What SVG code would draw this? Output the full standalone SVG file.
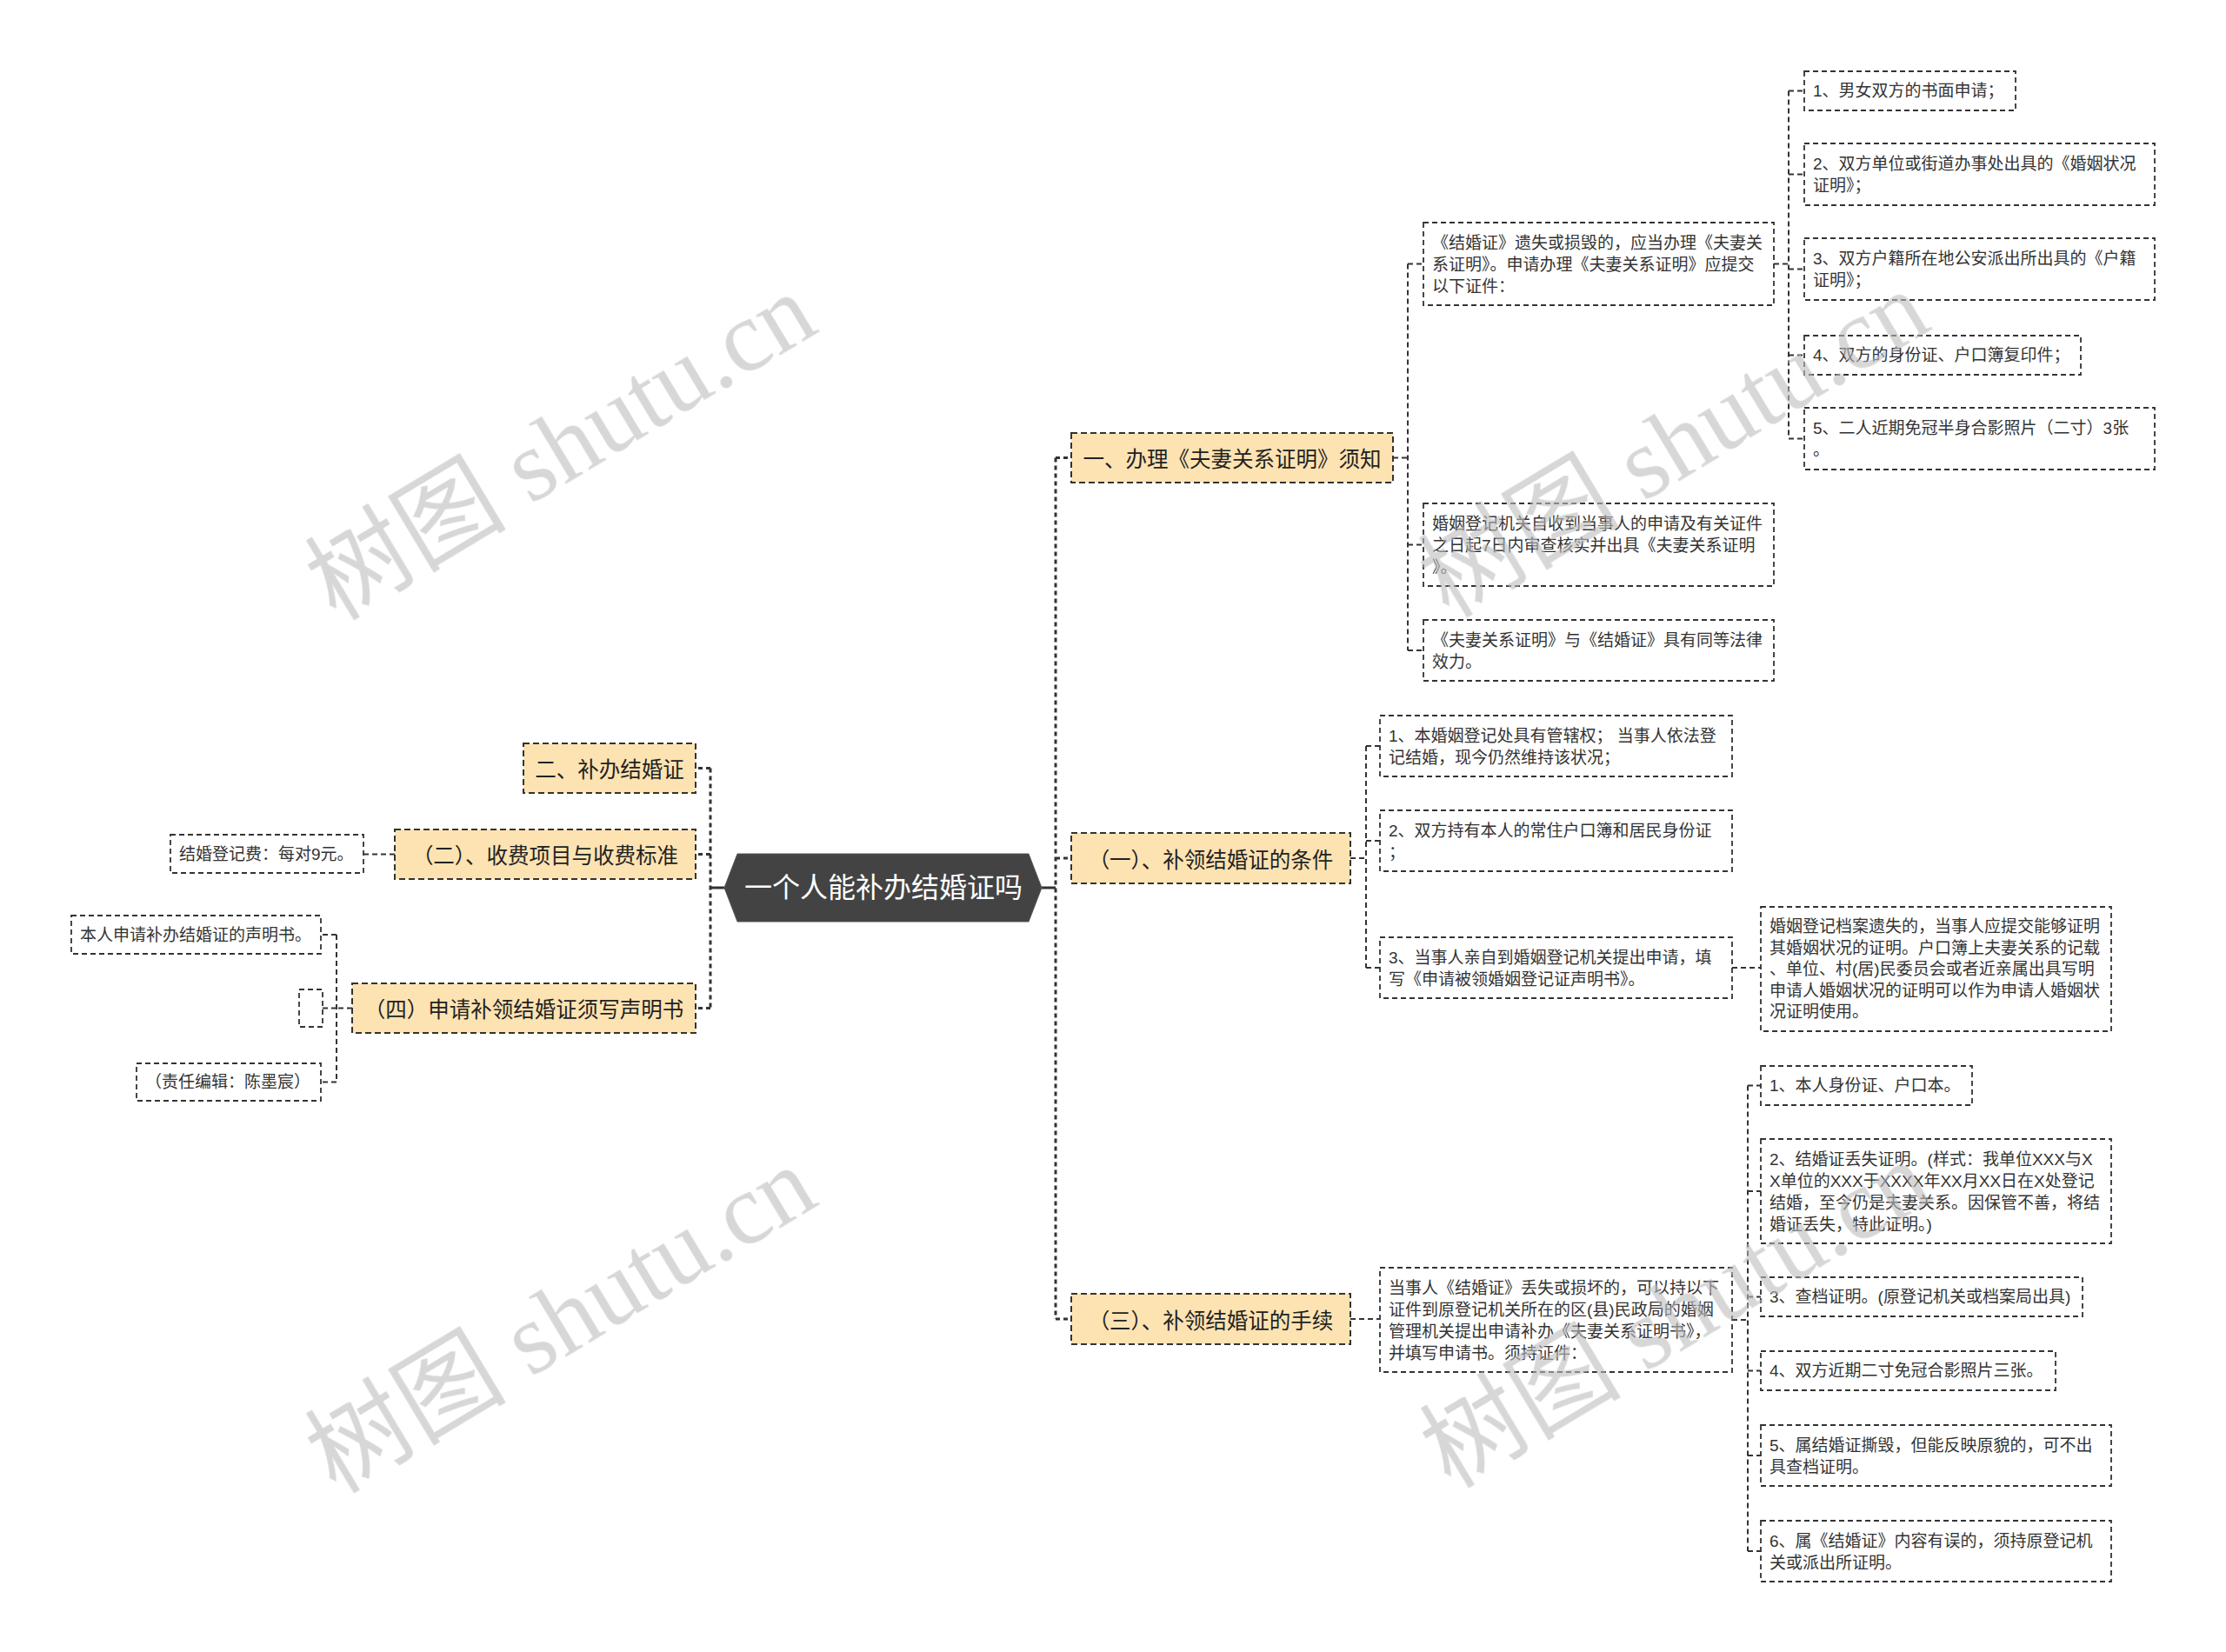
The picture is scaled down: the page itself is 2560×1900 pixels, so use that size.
<svg xmlns="http://www.w3.org/2000/svg" width="2560" height="1900" viewBox="0 0 2560 1900">
<style>
.bg{fill:#ffffff}
.n1 rect{fill:#fde3b2;stroke:#333333;stroke-width:2;stroke-dasharray:7 4}
.n2 rect{fill:#ffffff;stroke:#333333;stroke-width:1.8;stroke-dasharray:6 4}
.root polygon{fill:#434343;stroke:#555555;stroke-width:1}
.rt{font-family:"Liberation Sans","Noto Sans CJK SC",sans-serif;font-size:32px;fill:#ffffff;text-anchor:middle;dominant-baseline:central}
.t1{font-family:"Noto Sans CJK SC",sans-serif;font-size:24.5px;fill:#222222;text-anchor:middle;dominant-baseline:central}
.t2{font-family:"Liberation Sans","Noto Sans CJK SC",sans-serif;font-size:19px;fill:#333333;dominant-baseline:central}
.c0{stroke:#333333;stroke-width:3;fill:none}
.c1{stroke:#333333;stroke-width:3;stroke-dasharray:5 4;fill:none}
.c2{stroke:#333333;stroke-width:2;stroke-dasharray:6 4;fill:none}
.wm{font-family:"Liberation Serif","Noto Sans CJK SC",serif;font-size:116px;fill:#bdbdbd;opacity:0.6;text-anchor:middle;dominant-baseline:central}
</style>
<rect class="bg" x="0" y="0" width="2560" height="1900"/>

<g id="connectors">
  <path class="c0" d="M817 1021H833M1198 1021H1214"/>
  <path class="c1" d="M1214 526.5V1517M1214 526.5H1232M1214 987H1232M1214 1517H1232"/>
  <path class="c1" d="M817 883.5V1159.5M817 883.5H800M817 982.5H800M817 1159.5H800"/>
  <path class="c2" d="M1602 526.5H1619M1619 303.5V748M1619 303.5H1637M1619 626.5H1637M1619 748H1637"/>
  <path class="c2" d="M2040 303.5H2057M2057 104.5V504.5M2057 104.5H2075M2057 200.5H2075M2057 309.5H2075M2057 408.5H2075M2057 504.5H2075"/>
  <path class="c2" d="M1553 987H1571M1571 858V1113M1571 858H1587M1571 967H1587M1571 1113H1587"/>
  <path class="c2" d="M1992 1113H2025"/>
  <path class="c2" d="M1553 1517H1587"/>
  <path class="c2" d="M1992 1518H2010M2010 1248.5V1784M2010 1248.5H2025M2010 1370H2025M2010 1491.5H2025M2010 1576.5H2025M2010 1674H2025M2010 1784H2025"/>
  <path class="c2" d="M454 982.5H418"/>
  <path class="c2" d="M405 1159.5H387M387 1075V1244.5M387 1075H369M387 1159.5H371M387 1244.5H369"/>
</g>

<g id="root" class="root">
  <polygon points="833,1021 848,982 1183,982 1198,1021 1183,1060 848,1060"/>
  <text class="rt" x="1016" y="1021">一个人能补办结婚证吗</text>
</g>

<g id="n-yi" class="n1">
  <rect x="1232" y="498" width="370" height="57"/>
  <text class="t1" x="1417" y="526.5">一、办理《夫妻关系证明》须知</text>
</g>
<g id="n-1" class="n1">
  <rect x="1232" y="958" width="321" height="58"/>
  <text class="t1" x="1392.5" y="987">（一）、补领结婚证的条件</text>
</g>
<g id="n-3" class="n1">
  <rect x="1232" y="1488" width="321" height="58"/>
  <text class="t1" x="1392.5" y="1517">（三）、补领结婚证的手续</text>
</g>
<g id="n-er" class="n1">
  <rect x="602" y="855" width="198" height="57"/>
  <text class="t1" x="701" y="883.5">二、补办结婚证</text>
</g>
<g id="n-2" class="n1">
  <rect x="454" y="954" width="346" height="57"/>
  <text class="t1" x="627" y="982.5">（二）、收费项目与收费标准</text>
</g>
<g id="n-4" class="n1">
  <rect x="405" y="1131" width="395" height="57"/>
  <text class="t1" x="602.5" y="1159.5">（四）申请补领结婚证须写声明书</text>
</g>

<g id="a" class="n2">
  <rect x="1637" y="256" width="403" height="95"/>
  <text class="t2"><tspan x="1647" y="278.5">《结婚证》遗失或损毁的，应当办理《夫妻关</tspan><tspan x="1647" y="303.5">系证明》。申请办理《夫妻关系证明》应提交</tspan><tspan x="1647" y="328.5">以下证件：</tspan></text>
</g>
<g id="b" class="n2">
  <rect x="1637" y="579" width="403" height="95"/>
  <text class="t2"><tspan x="1647" y="601.5">婚姻登记机关自收到当事人的申请及有关证件</tspan><tspan x="1647" y="626.5">之日起7日内审查核实并出具《夫妻关系证明</tspan><tspan x="1647" y="651.5">》。</tspan></text>
</g>
<g id="c" class="n2">
  <rect x="1637" y="713" width="403" height="70"/>
  <text class="t2"><tspan x="1647" y="735.5">《夫妻关系证明》与《结婚证》具有同等法律</tspan><tspan x="1647" y="760.5">效力。</tspan></text>
</g>
<g id="a1" class="n2">
  <rect x="2075" y="82" width="243" height="45"/>
  <text class="t2" x="2085" y="104.5">1、男女双方的书面申请；</text>
</g>
<g id="a2" class="n2">
  <rect x="2075" y="165" width="403" height="71"/>
  <text class="t2"><tspan x="2085" y="188">2、双方单位或街道办事处出具的《婚姻状况</tspan><tspan x="2085" y="213">证明》；</tspan></text>
</g>
<g id="a3" class="n2">
  <rect x="2075" y="274" width="403" height="71"/>
  <text class="t2"><tspan x="2085" y="297">3、双方户籍所在地公安派出所出具的《户籍</tspan><tspan x="2085" y="322">证明》；</tspan></text>
</g>
<g id="a4" class="n2">
  <rect x="2075" y="386" width="318" height="45"/>
  <text class="t2" x="2085" y="408.5">4、双方的身份证、户口簿复印件；</text>
</g>
<g id="a5" class="n2">
  <rect x="2075" y="469" width="403" height="71"/>
  <text class="t2"><tspan x="2085" y="492">5、二人近期免冠半身合影照片（二寸）3张</tspan><tspan x="2085" y="517">。</tspan></text>
</g>

<g id="c1" class="n2">
  <rect x="1587" y="823" width="405" height="70"/>
  <text class="t2"><tspan x="1597" y="845.5">1、本婚姻登记处具有管辖权； 当事人依法登</tspan><tspan x="1597" y="870.5">记结婚，现今仍然维持该状况；</tspan></text>
</g>
<g id="c2" class="n2">
  <rect x="1587" y="932" width="405" height="70"/>
  <text class="t2"><tspan x="1597" y="954.5">2、双方持有本人的常住户口簿和居民身份证</tspan><tspan x="1597" y="979.5">；</tspan></text>
</g>
<g id="c3" class="n2">
  <rect x="1587" y="1078" width="405" height="70"/>
  <text class="t2"><tspan x="1597" y="1100.5">3、当事人亲自到婚姻登记机关提出申请，填</tspan><tspan x="1597" y="1125.5">写《申请被领婚姻登记证声明书》。</tspan></text>
</g>
<g id="c3x" class="n2">
  <rect x="2025" y="1043" width="403" height="143"/>
  <text class="t2"><tspan x="2035" y="1065">婚姻登记档案遗失的，当事人应提交能够证明</tspan><tspan x="2035" y="1089.5">其婚姻状况的证明。户口簿上夫妻关系的记载</tspan><tspan x="2035" y="1114">、单位、村(居)民委员会或者近亲属出具写明</tspan><tspan x="2035" y="1138.5">申请人婚姻状况的证明可以作为申请人婚姻状</tspan><tspan x="2035" y="1163">况证明使用。</tspan></text>
</g>

<g id="d0" class="n2">
  <rect x="1587" y="1458" width="405" height="120"/>
  <text class="t2"><tspan x="1597" y="1480.5">当事人《结婚证》丢失或损坏的，可以持以下</tspan><tspan x="1597" y="1505.5">证件到原登记机关所在的区(县)民政局的婚姻</tspan><tspan x="1597" y="1530.5">管理机关提出申请补办《夫妻关系证明书》，</tspan><tspan x="1597" y="1555.5">并填写申请书。须持证件：</tspan></text>
</g>
<g id="d1" class="n2">
  <rect x="2025" y="1226" width="243" height="45"/>
  <text class="t2" x="2035" y="1248.5">1、本人身份证、户口本。</text>
</g>
<g id="d2" class="n2">
  <rect x="2025" y="1310" width="403" height="120"/>
  <text class="t2"><tspan x="2035" y="1332.5">2、结婚证丢失证明。(样式：我单位XXX与X</tspan><tspan x="2035" y="1357.5">X单位的XXX于XXXX年XX月XX日在X处登记</tspan><tspan x="2035" y="1382.5">结婚，至今仍是夫妻关系。因保管不善，将结</tspan><tspan x="2035" y="1407.5">婚证丢失，特此证明。)</tspan></text>
</g>
<g id="d3" class="n2">
  <rect x="2025" y="1469" width="370" height="45"/>
  <text class="t2" x="2035" y="1491.5">3、查档证明。(原登记机关或档案局出具)</text>
</g>
<g id="d4" class="n2">
  <rect x="2025" y="1554" width="339" height="45"/>
  <text class="t2" x="2035" y="1576.5">4、双方近期二寸免冠合影照片三张。</text>
</g>
<g id="d5" class="n2">
  <rect x="2025" y="1639" width="403" height="70"/>
  <text class="t2"><tspan x="2035" y="1661.5">5、属结婚证撕毁，但能反映原貌的，可不出</tspan><tspan x="2035" y="1686.5">具查档证明。</tspan></text>
</g>
<g id="d6" class="n2">
  <rect x="2025" y="1749" width="403" height="70"/>
  <text class="t2"><tspan x="2035" y="1771.5">6、属《结婚证》内容有误的，须持原登记机</tspan><tspan x="2035" y="1796.5">关或派出所证明。</tspan></text>
</g>

<g id="e1" class="n2">
  <rect x="196" y="960" width="222" height="44"/>
  <text class="t2" x="206" y="982.5">结婚登记费：每对9元。</text>
</g>
<g id="e2" class="n2">
  <rect x="82" y="1053" width="287" height="44"/>
  <text class="t2" x="92" y="1075">本人申请补办结婚证的声明书。</text>
</g>
<g id="e3" class="n2">
  <rect x="344" y="1138" width="27" height="43"/>
</g>
<g id="e4" class="n2">
  <rect x="157" y="1223" width="212" height="43"/>
  <text class="t2" x="167" y="1244.5">（责任编辑：陈墨宸）</text>
</g>

<g id="watermarks" class="wm">
  <text transform="translate(645,514) rotate(-31)">树图 shutu.cn</text>
  <text transform="translate(645,1518) rotate(-31)">树图 shutu.cn</text>
  <text transform="translate(1925,511) rotate(-31)">树图 shutu.cn</text>
  <text transform="translate(1927,1512) rotate(-31)">树图 shutu.cn</text>
</g>
</svg>
